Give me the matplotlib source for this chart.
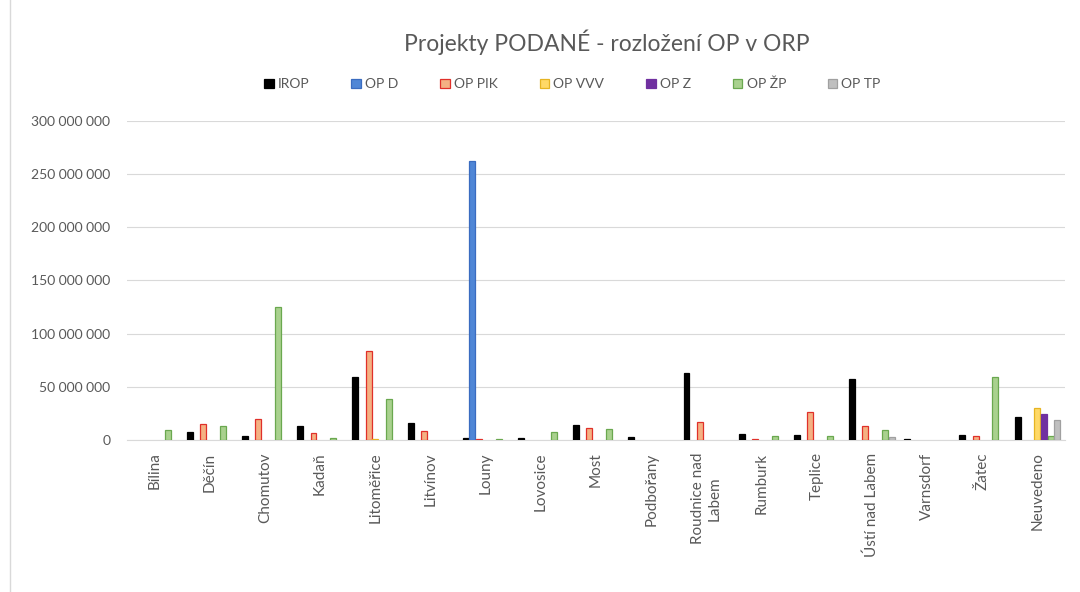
import matplotlib
matplotlib.use("Agg")
import matplotlib.pyplot as plt
from matplotlib.patches import Patch
import numpy as np
from matplotlib.ticker import FuncFormatter

plt.rcParams['font.family'] = ['Lato', 'DejaVu Sans']

categories = ["Bílina", "Děčín", "Chomutov", "Kadaň", "Litoměřice", "Litvínov",
              "Louny", "Lovosice", "Most", "Podbořany", "Roudnice nad\nLabem",
              "Rumburk", "Teplice", "Ústí nad Labem", "Varnsdorf", "Žatec", "Neuvedeno"]

series_names = ["IROP", "OP D", "OP PIK", "OP VVV", "OP Z", "OP ŽP", "OP TP"]

irop   = [0, 7.5e6, 3.4e6, 12.8e6, 58.8e6, 16.2e6, 1.9e6, 1.9e6, 14.0e6, 2.8e6, 63.1e6, 5.6e6, 4.4e6, 56.9e6, 0.9e6, 4.7e6, 21.2e6]
op_d   = [0, 0, 0, 0, 0, 0, 262.4e6, 0, 0, 0, 0, 0, 0, 0, 0, 0, 0]
op_pik = [0, 14.7e6, 19.7e6, 6.9e6, 83.4e6, 8.4e6, 1.0e6, 0, 11.2e6, 0, 16.9e6, 0.9e6, 26.2e6, 13.1e6, 0, 4.1e6, 0]
op_vvv = [0, 0, 0, 0, 1.0e6, 0, 0, 0, 0, 0, 0, 0, 0, 0, 0, 0, 30.0e6]
op_z   = [0, 0, 0, 0, 0, 0, 0, 0, 0, 0, 0, 0, 0, 0, 0, 0, 24.0e6]
op_zp  = [9.4e6, 13.1e6, 125.5e6, 1.6e6, 38.8e6, 0, 1.2e6, 7.5e6, 10.0e6, 0, 0, 4.2e6, 3.4e6, 9.7e6, 0, 59.4e6, 4.1e6]
op_tp  = [0, 0, 0, 0, 0, 0, 0, 0, 0, 0, 0, 0, 0, 2.8e6, 0, 0, 18.8e6]

series_values = [irop, op_d, op_pik, op_vvv, op_z, op_zp, op_tp]
face_colors = ["#000000", "#4f86d6", "#f4b183", "#ffd966", "#7030a0", "#a9d18e", "#bfbfbf"]
edge_colors = ["#000000", "#3a6cc0", "#e0302a", "#e6b422", "#7030a0", "#6aa84f", "#a0a0a0"]

fig = plt.figure(figsize=(10.8, 5.92), dpi=100)
ax = fig.add_axes([0.1176, 0.2568, 0.8685, 0.5388])

x = np.arange(len(categories))
bw = 0.12
for i, (name, vals) in enumerate(zip(series_names, series_values)):
    vals = np.asarray(vals, dtype=float)
    lws = [0.9 if v > 0 else 0 for v in vals]
    ax.bar(x + (i - 3) * bw, vals, width=bw * 0.9, color=face_colors[i],
           edgecolor=edge_colors[i], linewidth=lws, zorder=3)

ax.set_xlim(-0.5, len(categories) - 0.5)
ax.set_ylim(0, 300e6)
ax.set_yticks(np.arange(0, 300e6 + 1, 50e6))
ax.yaxis.set_major_formatter(FuncFormatter(lambda v, p: "{:,.0f}".format(v).replace(",", " ")))
ax.grid(axis='y', color='#d9d9d9', linewidth=0.8, zorder=0)
for s in ['top', 'right', 'left']:
    ax.spines[s].set_visible(False)
ax.spines['bottom'].set_color('#d9d9d9')
ax.tick_params(axis='both', length=0, colors='#595959', labelsize=10)
ax.tick_params(axis='y', pad=12)
ax.set_xticks(x)
ax.set_xticklabels(categories, rotation=90, va='top', ha='center', color='#595959',
                   fontsize=11, multialignment='center')
ax.tick_params(axis='x', pad=9)

fig.text(0.562, 0.928, "Projekty PODANÉ - rozložení OP v ORP", ha='center', va='center',
         fontsize=16.5, color='#595959')

handles = [Patch(facecolor=face_colors[i], edgecolor=edge_colors[i], linewidth=0.9,
                 label=series_names[i]) for i in range(len(series_names))]
leg = fig.legend(handles=handles, loc='center', bbox_to_anchor=(0.530, 0.858), ncol=7,
                 frameon=False, fontsize=10, handlelength=0.7, handleheight=0.7,
                 handletextpad=0.3, columnspacing=3.0, labelcolor='#595959')

fig.add_artist(plt.Line2D([0.0095, 0.0095], [0, 1], transform=fig.transFigure,
                          color='#d9d9d9', linewidth=1))

fig.savefig("out.png", dpi=100, facecolor='white')
